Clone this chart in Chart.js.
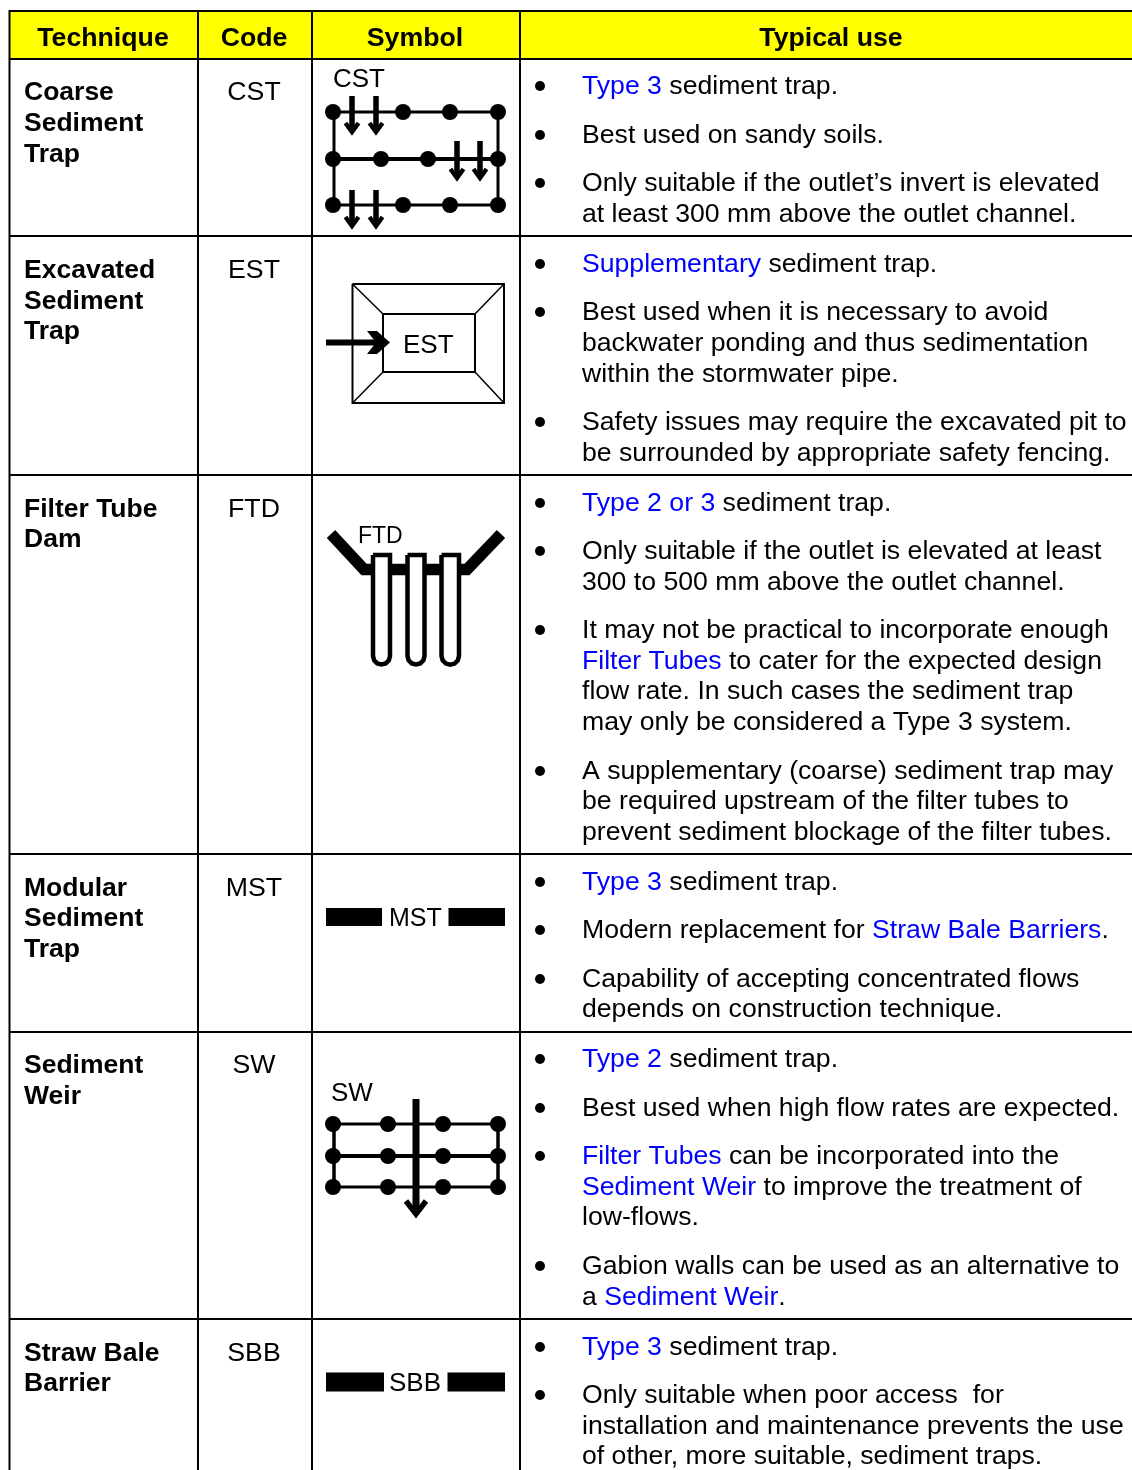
<!DOCTYPE html>
<html>
<head>
<meta charset="utf-8">
<title>Sediment trap techniques</title>
<script src="https://cdn.jsdelivr.net/npm/chart.js@4/dist/chart.umd.js"></script>
<style>
  html, body { margin: 0; padding: 0; background: #fff; }
  canvas { display: block; }
</style>
</head>
<body>
<canvas id="chart" width="1132" height="1470"></canvas>
<script>
// table text
const headers = ['Technique', 'Code', 'Symbol', 'Typical use'];
const headerCentres = [103, 254, 415, 831];
const headerY = 46;

const techniqueLines = ['Coarse', 'Sediment', 'Trap', 'Excavated', 'Sediment', 'Trap', 'Filter Tube', 'Dam',
  'Modular', 'Sediment', 'Trap', 'Sediment', 'Weir', 'Straw Bale', 'Barrier'];
const techniqueY = [100, 131, 162, 278, 309, 339, 517, 547, 896, 926, 957, 1073, 1104, 1361, 1391];

const codes = ['CST', 'EST', 'FTD', 'MST', 'SW', 'SBB'];
const codeY = [100, 278, 517, 896, 1073, 1361];

// {...} marks the blue runs
const useLines = [
  '{Type 3} sediment trap.',
  'Best used on sandy soils.',
  'Only suitable if the outlet’s invert is elevated',
  'at least 300 mm above the outlet channel.',
  '{Supplementary} sediment trap.',
  'Best used when it is necessary to avoid',
  'backwater ponding and thus sedimentation',
  'within the stormwater pipe.',
  'Safety issues may require the excavated pit to',
  'be surrounded by appropriate safety fencing.',
  '{Type 2 or 3} sediment trap.',
  'Only suitable if the outlet is elevated at least',
  '300 to 500 mm above the outlet channel.',
  'It may not be practical to incorporate enough',
  '{Filter Tubes} to cater for the expected design',
  'flow rate. In such cases the sediment trap',
  'may only be considered a Type 3 system.',
  'A supplementary (coarse) sediment trap may',
  'be required upstream of the filter tubes to',
  'prevent sediment blockage of the filter tubes.',
  '{Type 3} sediment trap.',
  'Modern replacement for {Straw Bale Barriers}.',
  'Capability of accepting concentrated flows',
  'depends on construction technique.',
  '{Type 2} sediment trap.',
  'Best used when high flow rates are expected.',
  '{Filter Tubes} can be incorporated into the',
  '{Sediment Weir} to improve the treatment of',
  'low-flows.',
  'Gabion walls can be used as an alternative to',
  'a {Sediment Weir}.',
  '{Type 3} sediment trap.',
  'Only suitable when poor access  for',
  'installation and maintenance prevents the use',
  'of other, more suitable, sediment traps.'
];
const useY = [94, 143, 191, 222, 272, 320, 351, 382, 430, 461, 511, 559, 590, 638, 669, 699, 730, 779, 809, 840,
  890, 938, 987, 1017, 1067, 1116, 1164, 1195, 1225, 1274, 1305, 1355, 1403, 1434, 1464];
const bulletY = [86, 135, 183, 264, 312, 422, 503, 551, 630, 771, 882, 930, 979, 1059, 1108, 1156, 1266, 1347, 1395];

// labels inside the symbols: text, x, baseline, font px
const symbolLabels = ['CST', 'EST', 'FTD', 'MST', 'SW', 'SBB'];
const symbolLabelX = [333, 403, 358, 389, 331, 389];
const symbolLabelY = [87, 353, 543, 926, 1101, 1391];
const symbolLabelSize = [26, 26, 23, 25, 26, 26];

// table rules
const ruleRows = [11, 59, 236, 475, 854, 1032, 1319];
const ruleCols = [9.5, 198, 312, 520];

// symbol parts, in table units
const cstDots = [[333, 112], [403, 112], [450, 112], [498, 112], [333, 159], [381, 159], [428, 159], [498, 159],
  [333, 205], [403, 205], [450, 205], [498, 205]];
const cstArrows = [[352, 96, 136], [376, 96, 136], [457, 141, 182], [480, 141, 182], [352, 190, 230], [376, 190, 230]];
const swDots = [[333, 1124], [388, 1124], [443, 1124], [498, 1124], [333, 1156], [388, 1156], [443, 1156], [498, 1156],
  [333, 1187], [388, 1187], [443, 1187], [498, 1187]];
const tubeCols = [[373, 390], [407.5, 424.5], [441.5, 459]];

const drawn = [];
function line(pts, width, color) {
  drawn.push({
    showLine: true, fill: false, borderColor: color || '#000', borderWidth: width, pointRadius: 0,
    borderCapStyle: 'butt', borderJoinStyle: 'miter', clip: false,
    data: pts.map(p => ({ x: p[0], y: p[1] }))
  });
}
function shape(pts, color) {
  drawn.push({
    showLine: true, fill: 'shape', backgroundColor: color || '#000', borderWidth: 0, pointRadius: 0,
    data: pts.map(p => ({ x: p[0], y: p[1] }))
  });
}
function dots(pts, r) {
  drawn.push({
    showLine: false, pointRadius: r, pointBackgroundColor: '#000', pointBorderWidth: 0, clip: false,
    data: pts.map(p => ({ x: p[0], y: p[1] }))
  });
}
function downArrow(x, top, tip) {
  line([[x, top], [x, tip - 6]], 5.5);
  line([[x - 6.5, tip - 13], [x, tip - 4], [x + 6.5, tip - 13]], 4.5);
}

// header fill
shape([[9, 11], [1132, 11], [1132, 59], [9, 59]], '#ffff00');

// CST
line([[333, 112], [498, 112]], 3);
line([[333, 159], [498, 159]], 4);
line([[333, 205], [498, 205]], 3);
line([[334, 112], [334, 205]], 3);
line([[498, 112], [498, 205]], 3);
dots(cstDots, 8);
cstArrows.forEach(a => downArrow(a[0], a[1], a[2]));

// EST
line([[352.5, 284], [504, 284], [504, 403], [352.5, 403], [352.5, 284]], 2);
line([[383, 314], [475, 314], [475, 372], [383, 372], [383, 314]], 2);
line([[352.5, 284], [383, 314]], 1.5);
line([[504, 284], [475, 314]], 1.5);
line([[352.5, 403], [383, 372]], 1.5);
line([[504, 403], [475, 372]], 1.5);
line([[326, 342.5], [384, 342.5]], 6);
shape([[367, 331], [377, 331], [390, 342.5], [377, 354], [367, 354], [376, 342.5]]);

// FTD
line([[331, 534], [364, 569.5], [467, 569.5], [501, 534]], 11.5);
tubeCols.forEach(t => {
  const mid = (t[0] + t[1]) / 2, r = (t[1] - t[0]) / 2;
  const outline = [[t[0], 555]];
  for (const a of [180, 150, 120, 90, 60, 30, 0]) {
    outline.push([mid + r * Math.cos(a * Math.PI / 180), 656 + r * Math.sin(a * Math.PI / 180)]);
  }
  outline.push([t[1], 555]);
  shape(outline, '#fff');
  line(outline.concat([[t[0], 555]]), 4.5);
});

// MST and SBB bars
line([[326, 917], [382, 917]], 18);
line([[448.5, 917], [505, 917]], 18);
line([[326, 1382], [384, 1382]], 19);
line([[447.5, 1382], [505, 1382]], 19);

// SW
line([[333, 1124], [498, 1124]], 3);
line([[333, 1156], [498, 1156]], 4);
line([[333, 1187], [498, 1187]], 3);
line([[334, 1124], [334, 1187]], 3.5);
line([[498, 1124], [498, 1187]], 3.5);
dots(swDots, 8);
line([[416, 1099], [416, 1212]], 7);
line([[406, 1201], [416, 1214], [426, 1201]], 5.5);

// rules on top
ruleRows.forEach(y => line([[9, y], [1132, y]], 2));
ruleCols.forEach(x => line([[x, 10], [x, 1470]], 2));

const textPlugin = {
  id: 'tableText',
  afterDatasetsDraw(chart) {
    const ctx = chart.ctx;
    const sx = v => chart.scales.x.getPixelForValue(v);
    const sy = v => chart.scales.y.getPixelForValue(v);
    const FONT = '"Liberation Sans", Arial, sans-serif';
    ctx.save();
    ctx.textBaseline = 'alphabetic';
    ctx.fillStyle = '#000';

    ctx.textAlign = 'center';
    ctx.font = 'bold 26.7px ' + FONT;
    headers.forEach((h, i) => ctx.fillText(h, sx(headerCentres[i]), sy(headerY)));
    ctx.font = '26.7px ' + FONT;
    codes.forEach((c, i) => ctx.fillText(c, sx(254), sy(codeY[i])));

    ctx.textAlign = 'left';
    ctx.font = 'bold 26.5px ' + FONT;
    techniqueLines.forEach((t, i) => ctx.fillText(t, sx(24), sy(techniqueY[i])));

    ctx.font = '26.63px ' + FONT;
    useLines.forEach((text, i) => {
      let x = sx(582);
      text.split(/(\{[^}]*\})/).filter(Boolean).forEach(run => {
        const blue = run[0] === '{';
        const s = blue ? run.slice(1, -1) : run;
        ctx.fillStyle = blue ? '#0000ff' : '#000';
        ctx.fillText(s, x, sy(useY[i]));
        x += ctx.measureText(s).width;
      });
    });

    ctx.fillStyle = '#000';
    bulletY.forEach(y => {
      ctx.beginPath();
      ctx.arc(sx(540), sy(y), 5, 0, Math.PI * 2);
      ctx.fill();
    });

    symbolLabels.forEach((s, i) => {
      ctx.font = symbolLabelSize[i] + 'px ' + FONT;
      ctx.fillText(s, sx(symbolLabelX[i]), sy(symbolLabelY[i]));
    });
    ctx.restore();
  }
};

// Chart.js paints dataset 0 last, so keep the order they were pushed in
drawn.forEach((d, i) => { d.order = -i; });

new Chart(document.getElementById('chart').getContext('2d'), {
  type: 'scatter',
  data: { datasets: drawn },
  plugins: [textPlugin],
  options: {
    responsive: false,
    animation: false,
    events: [],
    layout: { padding: 0, autoPadding: false },
    scales: {
      x: { type: 'linear', min: 0, max: 1132, display: false },
      y: { type: 'linear', min: 0, max: 1470, reverse: true, display: false }
    },
    plugins: { legend: { display: false }, tooltip: { enabled: false } }
  }
});
</script>
</body>
</html>
